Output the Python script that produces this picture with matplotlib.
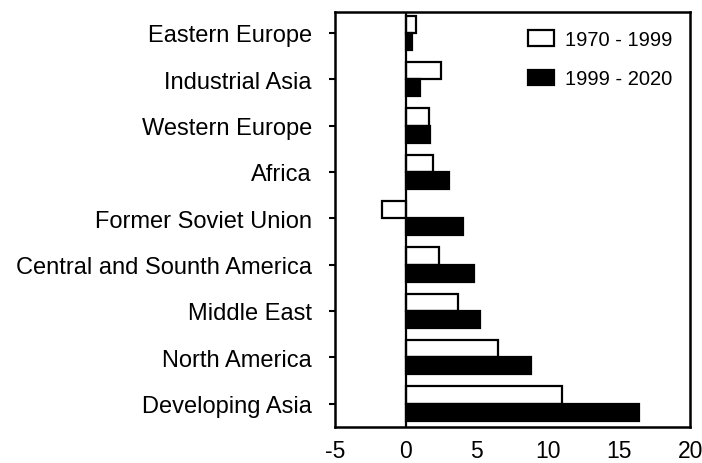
import matplotlib.pyplot as plt
import numpy as np

# regions, bottom to top
regions = ["Developing Asia", "North America", "Middle East",
           "Central and Sounth America", "Former Soviet Union", "Africa",
           "Western Europe", "Industrial Asia", "Eastern Europe"]
growth_70_99 = [11.0, 6.5, 3.7, 2.3, -1.7, 1.9, 1.6, 2.5, 0.7]
growth_99_20 = [16.4, 8.8, 5.2, 4.8, 4.0, 3.0, 1.7, 1.0, 0.4]
xticks = [-5, 0, 5, 10, 15, 20]

plt.rcParams['font.family'] = ['Liberation Sans', 'DejaVu Sans']

fig = plt.figure(figsize=(7.02, 4.64), dpi=100)
ax = fig.add_axes([0.477, 0.078, 0.506, 0.894])

y = np.arange(len(regions))
h = 0.37
ax.barh(y + h / 2, growth_70_99, height=h, color='white', edgecolor='black',
        linewidth=1.6, label='1970 - 1999')
ax.barh(y - h / 2, growth_99_20, height=h, color='black', edgecolor='black',
        linewidth=1.6, label='1999 - 2020')
ax.axvline(0, color='black', linewidth=1.6)

ax.set_xlim(-5, 20)
ax.set_ylim(-0.5, 8.45)
ax.set_xticks(xticks)
ax.set_xticklabels([str(t) for t in xticks])
ax.set_yticks(y)
ax.set_yticklabels(regions)
ax.tick_params(axis='y', length=4.5, width=1.5, pad=12, labelsize=17)
ax.tick_params(axis='x', length=0, pad=9, labelsize=16.5)
for s in ax.spines.values():
    s.set_linewidth(1.8)

ax.legend(loc='upper right', frameon=False, fontsize=14.5, handlelength=1.3,
          handleheight=0.8, handletextpad=0.5, labelspacing=1.0,
          borderaxespad=0.5)

fig.savefig('out.png', dpi=100)
